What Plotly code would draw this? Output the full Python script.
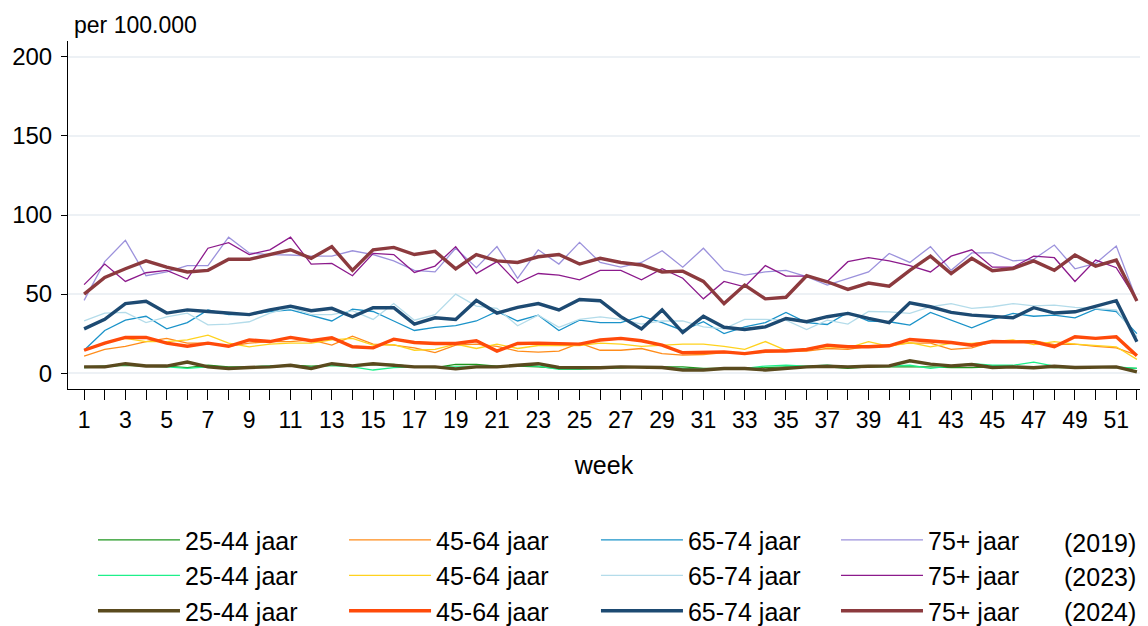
import plotly.graph_objects as go

weeks = list(range(1, 53))

# 25-44 jaar
g2544_2019 = [4,4.5,5,4.5,4.5,3.5,5,4,4,4.5,5,4.5,5,4.5,5.5,5.5,4,3.5,5.5,5.5,4.5,4.5,4,3,3,3,3.5,4,4,4,3,3,3,3.5,4,4,4,3,4,4,4,4,3.5,3.5,4,4,4,3.5,3.5,4,3.5,3]
g2544_2023 = [3.5,4,5.5,4.5,4,3,4,3.5,4,4.5,4.5,4,5,4,2,3.5,4,4,4,4,4,5,4.5,2.5,2.5,3,3.5,4,3.5,3,2.5,3,3,4.5,5,4.5,5,4,4.5,4.5,5,3,4.5,6,5,5,7,4.5,4,4,4,3]
g2544_2024 = [4,4,6,4.5,4.5,7,4,3,3.6,4,5,3,6,4.6,6,5,4,4,2.7,4,4,5,6,3.6,3.6,3.4,4,4,3.6,2,2,3,3,2,3,4,4.4,4,4.4,4.6,7.8,5.7,4.6,5.5,3.6,4,3.4,4.4,3.6,4,4,0.8]

# 45-64 jaar
g4564_2019 = [10.8,15,17,20,22,19,19,17,19,20,20,21,17.7,23.4,18.4,17.7,16,13,17.7,18.4,17,14,13.3,14,19,14.5,14.5,15.6,12.4,11.4,11.8,13,12.4,13,14,14,15.6,15,17,17.7,19,19,15,16,20,20.5,20.5,18,18.4,17,16,11.4]
g4564_2023 = [14.5,19,22,20,20,21,24,19,16.7,18.4,19,19,21,22,17.7,18,14.5,15,18.4,15.6,18.4,15.6,17.5,17.5,17.5,19,18.4,17,17.7,18.4,18.4,17,15,20,14.5,15,16.7,16,20,17,19.4,16.7,18.8,18.8,20,21,18,20,18.4,17.7,16.7,8.7]
g4564_2024 = [14.5,19,22.6,22.6,19,17,19,17,21,20,22.6,20.5,22.4,16.7,16,21.5,19.4,18.8,18.8,20.5,14,18.8,19,18.8,18.4,21,22,20.5,17.7,12.9,13,13.5,12.4,14,14,15,17.7,16.7,16.7,17.3,21.3,20.5,19.4,17.7,20,19.8,19.8,16.7,23,22,23,11]

# 65-74 jaar
g6574_2019 = [14.5,27,33.5,36,28,32,40,37,37,39,40,36.7,33,40.5,39,33,27,29,30,33,39,33,36.7,27,33.5,32,32,36,32,27,32.5,25,29.3,32,38.4,32,30.8,38.4,33,32.5,30.4,38.4,33.5,28.7,34,37.8,36,36.7,35,40.5,39,25]
g6574_2023 = [33,38,38.4,32,35.6,38,30.6,31,32.5,38,41.4,37,37,39.5,34,44,33.5,37,50,42.4,41,30,36.7,29,34,35.6,34,31,33,33,29.3,28,34,34,33.5,27.6,33.5,31,39,38.8,37.8,42,44,41,42,44,42.6,43,41.6,41,40,23]
g6574_2024 = [28,34,44,45.5,38,40,39,38,37,40,42.4,39.5,41,35.7,41.4,41.4,31,35,34,46,38,41.6,44,40,46.6,45.8,35.7,28,40,25.7,36,29,27.6,29.3,34.6,32.5,35.7,37.8,34.6,32,44.5,42,38.4,36.7,35.7,35,41.4,38,38.8,42.4,45.8,19.8]

# 75+ jaar
g75_2019 = [46,70.5,84,61.6,64,68,68,86,76,75,74.7,74,74,77.4,75,71,65,64,79,66.7,80,60,78,69,82.7,70,67,70,77.4,67,79,65,62,64,65,61,55.7,60,64,75.7,70,80,65,76,76,71,72,81,66,69.4,80.4,46]
g75_2023 = [56,69,58,63.5,65,59.5,79,82.5,75,78,86,69,69.4,61.6,75.7,75,63.7,67.7,80,63,70.5,57,63,62,59,65,65,59,66,60,47,58,54.6,68,61.4,61.4,58,70.5,73,71,68,64,74,78,67,67,74,73,58,71.5,66.7,46]
g75_2024 = [50,60.5,66,71,67,64,65,72,72,75,78,72.6,80,65,78,79.5,75,77,66,75,71,70,73.6,75,69,72.6,70,68.4,64,64.5,58,44,55.7,47,48,61.6,57.8,53,57,55,65,74,63,72.6,64.8,66.2,71,65,74.7,67.7,71.5,45.6]

groups = ["25-44 jaar", "45-64 jaar", "65-74 jaar", "75+ jaar"]
years = ["(2019)", "(2023)", "(2024)"]
yticks = [0, 50, 100, 150, 200]
xlabels = [str(w) if w % 2 == 1 else "" for w in weeks]

series = [
    [g2544_2019, g2544_2023, g2544_2024],
    [g4564_2019, g4564_2023, g4564_2024],
    [g6574_2019, g6574_2023, g6574_2024],
    [g75_2019, g75_2023, g75_2024],
]
colors = [
    ["#1f961f", "#1ef08a", "#5a4a1e"],
    ["#ff8c1a", "#ffd21e", "#ff4a0a"],
    ["#1b93c9", "#b4dcea", "#1d4a72"],
    ["#9c92dc", "#8c1a8c", "#8c3a3e"],
]
widths = [1.3, 1.3, 3.4]
legend_names = ["legend", "legend2", "legend3", "legend4"]

FONT = "Liberation Sans, Arial, sans-serif"
fig = go.Figure()

for yi in range(3):
    for gi in range(4):
        fig.add_trace(go.Scatter(
            x=weeks, y=series[gi][yi], mode="lines",
            name=groups[gi],
            line=dict(color=colors[gi][yi], width=widths[yi]),
            legend=legend_names[gi],
            legendrank=yi + 1,
            showlegend=True,
        ))

# page body has an 8px margin: plot area placed to land at the reference position
leg_x = [0.0233, 0.2575, 0.4925, 0.7164]
legends = {}
for gi, ln in enumerate(legend_names):
    legends[ln] = dict(
        x=leg_x[gi], y=-0.368, xanchor="left", yanchor="top",
        orientation="v", traceorder="normal",
        font=dict(family=FONT, size=25, color="#000"),
        bgcolor="rgba(0,0,0,0)", tracegroupgap=0,
        itemwidth=82,
    )

fig.update_layout(
    width=1148, height=626,
    margin=dict(l=60, r=16, t=33, b=245, autoexpand=False),
    paper_bgcolor="white", plot_bgcolor="white",
    font=dict(family=FONT, size=24, color="#000"),
    xaxis=dict(
        range=[0.22, 52.15],
        tickmode="array", tickvals=weeks, ticktext=xlabels,
        ticks="outside", ticklen=10, tickcolor="#000", tickwidth=1,
        showline=True, linecolor="#000", linewidth=1,
        showgrid=False, zeroline=False,
        tickfont=dict(size=23),
        title=dict(text="week", font=dict(size=25), standoff=24),
    ),
    yaxis=dict(
        range=[-10, 210],
        tickmode="array", tickvals=yticks,
        ticks="outside", ticklen=6, tickcolor="#000", tickwidth=1,
        showline=True, linecolor="#000", linewidth=1,
        showgrid=True, gridcolor="#edf1f5", gridwidth=1.5,
        zeroline=False,
        tickfont=dict(size=24),
        ticklabelstandoff=4,
    ),
    annotations=[
        dict(text="per 100.000", x=0.004, y=1.0, xref="paper", yref="paper",
             xanchor="left", yanchor="middle", yshift=16, showarrow=False,
             font=dict(size=23)),
    ] + [
        dict(text=yr, x=0.927, xref="paper", y=yv, yref="paper",
             xanchor="left", yanchor="middle", showarrow=False,
             font=dict(size=25))
        for yr, yv in zip(years, [-0.443, -0.54, -0.64])
    ],
    showlegend=True,
    **legends,
)

fig.write_html("out.html")
